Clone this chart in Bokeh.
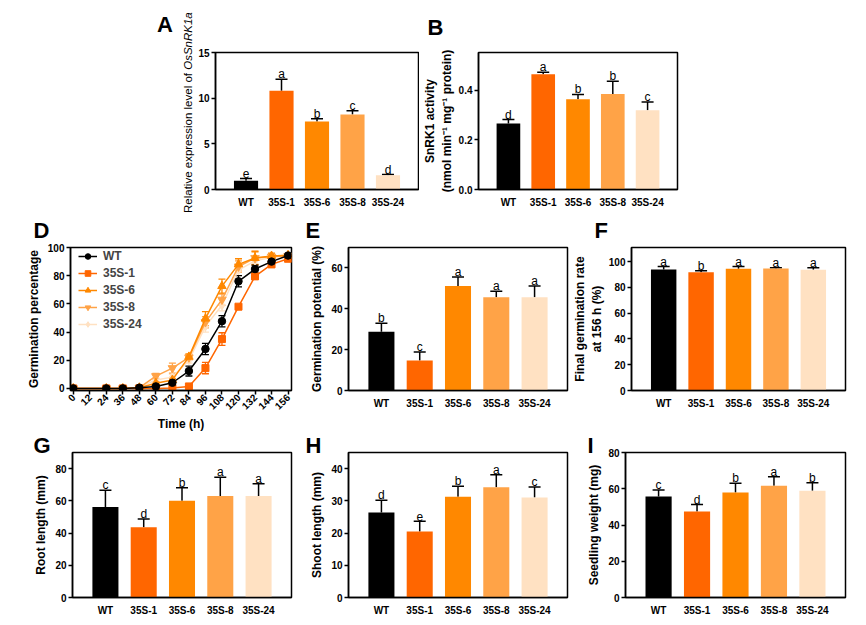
import math
from bokeh.plotting import figure
from bokeh.layouts import column, row
from bokeh.models import (ColumnDataSource, Whisker, TeeHead, FixedTicker, Div,
                          Range1d, FactorRange, Legend, LegendItem, PrintfTickFormatter)
from bokeh.embed import file_html
from bokeh.resources import INLINE
from bokeh.core.properties import value

FONT = "Liberation Sans"

# ---------------- data ----------------
lines = ["WT", "35S-1", "35S-6", "35S-8", "35S-24"]
colors = ["#000000", "#FF6600", "#FF8800", "#FFA347", "#FFE1C2"]
markers = ["circle", "square", "triangle", "inverted_triangle", "diamond"]

expr_mean = [0.95, 10.8, 7.45, 8.2, 1.55]
expr_sd = [0.25, 1.28, 0.3, 0.42, 0.08]
expr_sig = ["e", "a", "b", "c", "d"]

snrk_mean = [0.266, 0.464, 0.364, 0.385, 0.319]
snrk_sd = [0.016, 0.008, 0.019, 0.051, 0.034]
snrk_sig = ["d", "a", "b", "b", "c"]

times = [0, 24, 36, 48, 60, 72, 84, 96, 108, 120, 132, 144, 156]
wt_germ = [0, 0, 0, 0.5, 1.4, 4, 12.3, 28, 47.7, 76, 84.7, 90, 94.3]
wt_germ_sd = [0, 0, 0, 0.3, 1, 1.5, 3.5, 4, 4, 4, 2.8, 2.5, 1]
s1_germ = [0, 0, 0, 0, 0, 0.3, 1.4, 14.4, 35, 58, 79.5, 88, 92]
s1_germ_sd = [0, 0, 0, 0, 0, 0.3, 0.5, 4, 4.5, 1.5, 2, 2, 1.5]
s6_germ = [0, 0, 0, 0.5, 3.7, 6, 22.4, 49.5, 72.6, 88, 92.5, 94, 94.5]
s6_germ_sd = [0, 0, 0, 0.3, 1, 1, 2, 5, 5, 4, 4.5, 2, 1]
s8_germ = [0, 0, 0, 0.5, 8.7, 14.4, 22, 47, 63, 86.5, 92.5, 93.5, 94]
s8_germ_sd = [0, 0, 0, 0.3, 2, 3.5, 2, 4, 4, 4, 5, 2, 1]
s24_germ = [0, 0, 0, 0.5, 6, 8, 20, 44, 59, 84, 90.5, 93, 95]
s24_germ_sd = [0, 0, 0, 0.3, 1.5, 2, 2, 4, 4, 4, 3, 2, 1]
time_ticks = [0, 12, 24, 36, 48, 60, 72, 84, 96, 108, 120, 132, 144, 156]

gp_mean = [28.7, 14.7, 51.2, 45.6, 45.6]
gp_sd = [4.2, 4.1, 4.3, 3.0, 5.5]
gp_sig = ["b", "c", "a", "a", "a"]

fg_mean = [94.0, 91.7, 94.5, 94.7, 93.7]
fg_sd = [2.2, 1.3, 1.7, 0.5, 1.5]
fg_sig = ["a", "b", "a", "a", "a"]

root_mean = [56.1, 43.6, 60.0, 63.0, 63.0]
root_sd = [10.4, 5.2, 8.1, 11.6, 7.6]
root_sig = ["c", "d", "b", "a", "a"]

shoot_mean = [26.4, 20.5, 31.3, 34.2, 31.0]
shoot_sd = [3.8, 3.2, 3.2, 3.9, 3.3]
shoot_sig = ["d", "e", "b", "a", "c"]

weight_mean = [55.7, 47.4, 58.0, 61.7, 58.9]
weight_sd = [3.6, 3.9, 5.1, 4.9, 4.4]
weight_sig = ["c", "d", "b", "a", "b"]


# ---------------- helpers ----------------
def base_fig(w, h, bl, br, bt, bb, x_range, y_range):
    p = figure(width=w, height=h, x_range=x_range, y_range=y_range,
               output_backend="svg", toolbar_location=None,
               min_border_left=bl, min_border_right=br,
               min_border_top=bt, min_border_bottom=bb)
    p.outline_line_color = "black"
    p.outline_line_width = 1.5
    p.outline_line_alpha = 1.0
    p.xgrid.grid_line_color = None
    p.ygrid.grid_line_color = None
    for ax in p.axis:
        ax.axis_line_width = 1.5
        ax.axis_line_color = "black"
        ax.major_tick_line_width = 1.5
        ax.major_tick_line_color = "black"
        ax.major_tick_in = 0
        ax.major_tick_out = 4
        ax.minor_tick_line_color = None
        ax.major_label_text_font = FONT
        ax.major_label_text_font_style = "bold"
        ax.major_label_text_font_size = "10px"
        ax.major_label_text_color = "black"
        ax.axis_label_text_font = FONT
        ax.axis_label_text_font_style = "bold"
        ax.axis_label_text_font_size = "12px"
        ax.axis_label_text_color = "black"
        ax.major_label_standoff = 2
        ax.axis_label_standoff = 4
    return p


def panel_letter(p, letter, offset, standoff):
    t = p.title
    t.text = letter
    t.align = "left"
    t.vertical_align = "top"
    t.offset = offset
    t.standoff = standoff
    t.text_font = FONT
    t.text_font_style = "bold"
    t.text_font_size = "22px"
    t.text_color = "black"


def bar_panel(w, h, bl, br, bt, bb, ymax, ticks, means, sds, sigs, ylabel):
    xr = FactorRange(factors=lines, range_padding=0.36, range_padding_units="absolute")
    p = base_fig(w, h, bl, br, bt, bb, xr, Range1d(0, ymax))
    frame_h = h - bt - bb
    gap = ymax * 5.0 / frame_h
    upper = [m + s for m, s in zip(means, sds)]
    src = ColumnDataSource(dict(x=lines, top=means, upper=upper,
                                sig_y=[u + gap for u in upper],
                                sig=sigs, color=colors))
    p.vbar(x="x", top="top", width=0.68, fill_color="color", line_color=None, source=src)
    p.add_layout(Whisker(source=src, base="x", lower="top", upper="upper",
                         line_color="black", line_width=1.5,
                         upper_head=TeeHead(size=12, line_color="black", line_width=1.5),
                         lower_head=None))
    p.text(x="x", y="sig_y", text="sig", source=src, text_align="center",
           text_baseline="alphabetic", text_font=value(FONT),
           text_font_size="12px", text_color="black")
    p.yaxis.ticker = FixedTicker(ticks=ticks)
    p.xaxis.major_tick_line_color = None
    p.xaxis.major_label_standoff = 3
    p.yaxis.axis_label = ylabel
    return p


# ---------------- row 1 ----------------
RH1 = 215
# panel letter "A" and the mixed-style (regular + italic gene name) y-axis title of panel A
divA = Div(text=(
    '<div style="width:max-content; height:22px; line-height:22px; '
    "font-family:'Liberation Sans', Arial, sans-serif; font-size:22px; font-weight:bold; "
    'color:#000; transform:translate(157px, 14px);">A</div>'
    '<div style="width:max-content; height:13px; line-height:13px; white-space:nowrap; '
    "font-family:'Liberation Sans', Arial, sans-serif; font-size:11.5px; color:#000; "
    'transform-origin:0 0; transform:translate(182px, 191px) rotate(-90deg);">'
    'Relative expression level of <i>OsSnRK1a</i></div>'),
    width=195, height=RH1, margin=0, styles={"overflow": "visible"})

pA = bar_panel(224, RH1, 18, 1, 52, 26, 15, [0, 5, 10, 15],
               expr_mean, expr_sd, expr_sig, None)

pB = bar_panel(447, RH1, 52, 189, 52, 26, 0.552, [0.0, 0.2, 0.4],
               snrk_mean, snrk_sd, snrk_sig,
               "SnRK1 activity\n(nmol min\u207b\u00b9 mg\u207b\u00b9 protein)")
pB.yaxis.formatter = PrintfTickFormatter(format="%.1f")
pB.yaxis.axis_label_standoff = 2
panel_letter(pB, "B", -51, 22)

# ---------------- row 2 ----------------
RH2 = 218
pD = base_fig(296, RH2, 70, 5, 31, 41, Range1d(-2, 158.5), Range1d(-1.5, 100))
series = [(wt_germ, wt_germ_sd), (s1_germ, s1_germ_sd), (s6_germ, s6_germ_sd),
          (s8_germ, s8_germ_sd), (s24_germ, s24_germ_sd)]
msize = {"circle": 7.5, "square": 7, "triangle": 8.5, "inverted_triangle": 8.5, "diamond": 9}
items = {}
for i in reversed(range(5)):
    vals, sd = series[i]
    c = colors[i]
    src = ColumnDataSource(dict(t=times, y=vals,
                                lo=[v - s for v, s in zip(vals, sd)],
                                hi=[v + s for v, s in zip(vals, sd)]))
    pD.add_layout(Whisker(source=src, base="t", lower="lo", upper="hi",
                          line_color=c, line_width=1.3,
                          upper_head=TeeHead(size=7, line_color=c, line_width=1.3),
                          lower_head=TeeHead(size=7, line_color=c, line_width=1.3)))
    lr = pD.line("t", "y", source=src, line_color=c, line_width=1.5)
    sr = pD.scatter("t", "y", source=src, marker=markers[i], size=msize[markers[i]],
                    fill_color=c, line_color=c)
    items[i] = LegendItem(label=lines[i], renderers=[lr, sr])
legend = Legend(items=[items[i] for i in range(5)], location=(8, 59), margin=0, padding=0,
                spacing=3, label_height=14, glyph_height=14, glyph_width=19,
                label_standoff=6, label_text_font=FONT, label_text_font_style="bold",
                label_text_font_size="12px", background_fill_alpha=0,
                border_line_color=None)
pD.add_layout(legend)
pD.xaxis.ticker = FixedTicker(ticks=time_ticks)
pD.yaxis.ticker = FixedTicker(ticks=[0, 20, 40, 60, 80, 100])
pD.xaxis.major_label_orientation = math.pi / 4
pD.xaxis.major_label_standoff = 1
pD.xaxis.axis_label_standoff = 1
pD.xaxis.axis_label = "Time (h)"
pD.yaxis.axis_label = "Germination percentage"
panel_letter(pD, "D", -37, 5)

pE = bar_panel(274, RH2, 52, 3, 31, 41, 70, [0, 20, 40, 60],
               gp_mean, gp_sd, gp_sig, "Germination potential (%)")
panel_letter(pE, "E", -43, 5)

pF = bar_panel(296, RH2, 55, 21, 31, 41, 111, [0, 20, 40, 60, 80, 100],
               fg_mean, fg_sd, fg_sig, "Final germination rate\nat 156 h (%)")
pF.yaxis.axis_label_standoff = 2
panel_letter(pF, "F", -37, 5)

# ---------------- row 3 ----------------
RH3 = 192
pG = bar_panel(296, RH3, 72, 5, 19, 28, 90, [0, 20, 40, 60, 80],
               root_mean, root_sd, root_sig, "Root length (mm)")
panel_letter(pG, "G", -39, -14)

pH = bar_panel(274, RH3, 52, 3, 19, 28, 45, [0, 10, 20, 30, 40],
               shoot_mean, shoot_sd, shoot_sig, "Shoot length (mm)")
panel_letter(pH, "H", -43, -14)

pI = bar_panel(296, RH3, 55, 21, 19, 28, 80, [0, 20, 40, 60, 80],
               weight_mean, weight_sd, weight_sig, "Seedling weight (mg)")
panel_letter(pI, "I", -38, -14)

layout = column(row(divA, pA, pB), row(pD, pE, pF), row(pG, pH, pI))

open("out.html", "w").write(file_html(layout, INLINE))
